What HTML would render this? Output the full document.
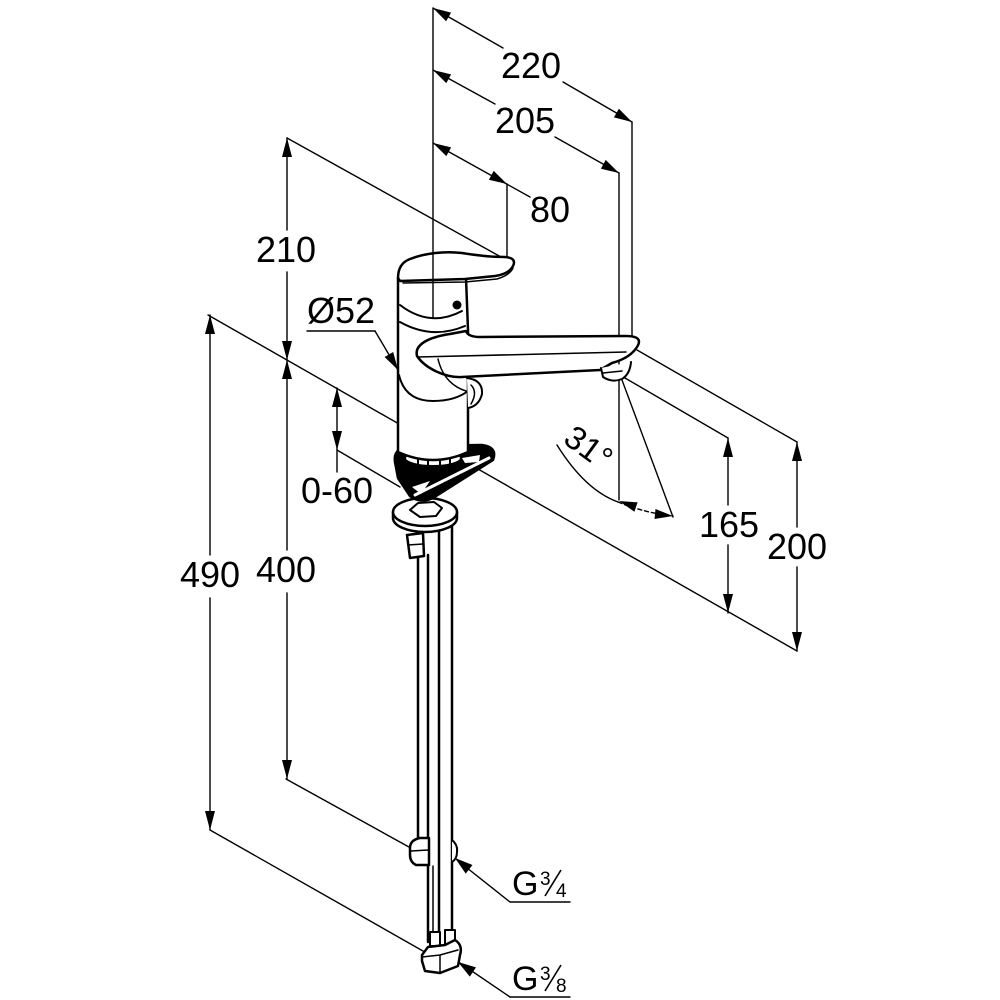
<!DOCTYPE html>
<html><head><meta charset="utf-8"><style>
html,body{margin:0;padding:0;background:#fff;}
svg{display:block;}
text{font-family:"Liberation Sans",Arial,sans-serif;fill:#000;}
</style></head><body>
<svg width="1000" height="1000" viewBox="0 0 1000 1000" xmlns="http://www.w3.org/2000/svg">
<rect width="1000" height="1000" fill="#fff"/>
<g stroke="#000" stroke-width="1.4" fill="none" stroke-linecap="round">
  <line x1="433" y1="8" x2="503" y2="48"/>
  <line x1="563" y1="82" x2="632" y2="122"/>
  <line x1="433" y1="70" x2="495" y2="104"/>
  <line x1="555" y1="137" x2="619" y2="173"/>
  <line x1="433" y1="143" x2="530" y2="197"/>
  <line x1="507" y1="184" x2="507" y2="258"/>
  <line x1="619" y1="173" x2="619" y2="500"/>
  <line x1="632" y1="122" x2="632" y2="345"/>
  <line x1="287" y1="138" x2="287" y2="230"/>
  <line x1="287" y1="272" x2="287" y2="360"/>
  <line x1="287" y1="138" x2="510" y2="262"/>
  <line x1="287" y1="360" x2="287" y2="550"/>
  <line x1="287" y1="593" x2="287" y2="779"/>
  <line x1="286" y1="779" x2="418" y2="852"/>
  <line x1="210" y1="315" x2="210" y2="555"/>
  <line x1="210" y1="598" x2="210" y2="830"/>
  <line x1="208" y1="315" x2="797" y2="651"/>
  <line x1="210" y1="830" x2="430" y2="955"/>
  <line x1="337" y1="388" x2="337" y2="472"/>
  <line x1="337" y1="450" x2="400" y2="487"/>
  <line x1="307" y1="331" x2="375" y2="331"/>
  <line x1="375" y1="331" x2="398" y2="370"/>
  <line x1="797" y1="442" x2="797" y2="527"/>
  <line x1="797" y1="567" x2="797" y2="651"/>
  <line x1="637" y1="350" x2="797" y2="442"/>
  <line x1="728" y1="438" x2="728" y2="505"/>
  <line x1="728" y1="545" x2="728" y2="613"/>
  <line x1="625" y1="378" x2="728" y2="438"/>
  <line x1="622" y1="380" x2="673" y2="517"/>
  <path d="M557,445 Q585,490 618,502"/>
  <path d="M618,502 Q645,513 673,516" stroke-dasharray="4,3"/>
  <line x1="510" y1="902" x2="570" y2="902"/>
  <line x1="510" y1="902" x2="457" y2="860"/>
  <line x1="510" y1="997" x2="570" y2="997"/>
  <line x1="510" y1="997" x2="460" y2="963"/>
</g>
<g fill="#000" stroke="none">
  <polygon points="433,8 446.1,21.2 451.1,12.6"/>
  <polygon points="632,122 613.9,117.4 618.9,108.8"/>
  <polygon points="433,70 446.3,83.1 451.1,74.4"/>
  <polygon points="619,173 600.9,168.7 605.7,159.9"/>
  <polygon points="433,143 446.3,156.1 451.1,147.4"/>
  <polygon points="507,184 488.9,179.7 493.7,170.9"/>
  <polygon points="287,138 282,157 292,157"/>
  <polygon points="287,360 282,341 292,341"/>
  <polygon points="287,360 282,379 292,379"/>
  <polygon points="287,779 282,760 292,760"/>
  <polygon points="210,315 205,334 215,334"/>
  <polygon points="210,830 205,811 215,811"/>
  <polygon points="337,388 332,407 342,407"/>
  <polygon points="337,450 332,431 342,431"/>
  <polygon points="398,370 384.6,357 393.2,352"/>
  <polygon points="797,442 792,461 802,461"/>
  <polygon points="797,651 792,632 802,632"/>
  <polygon points="728,438 723,457 733,457"/>
  <polygon points="728,613 723,594 733,594"/>
  <polygon points="619,501 637.6,502.3 634.4,511.7"/>
  <polygon points="673,516 655.5,509 654.5,519"/>
  <polygon points="455,858 472.5,865 465.7,873.6"/>
  <polygon points="458,962 476,967.4 469.8,976.6"/>
</g>

<g stroke="#000" stroke-width="2.5" fill="#fff" stroke-linejoin="round" stroke-linecap="round">
  <line x1="418" y1="555" x2="418" y2="840"/>
  <line x1="428" y1="555" x2="428" y2="942"/>
  <line x1="439" y1="515" x2="439" y2="942"/>
  <line x1="452" y1="515" x2="452" y2="942"/>
  <line x1="433" y1="866" x2="433" y2="942" stroke-width="1.5"/>
  <path d="M407,535 L423,533 L424,556 L410,558 Z"/>
  <line x1="408" y1="545" x2="423" y2="544" stroke-width="1.5"/>
  <path d="M393,512 L393,518 A32 14 0 0 0 457,518 L457,512"/>
  <ellipse cx="425" cy="512" rx="32" ry="14"/>
  <path d="M410,510 L418,503 L434,502 L442,508 L436,516 L420,517 Z" stroke-width="2"/>
  <!-- base plate -->
  <path d="M395,462 Q393,449 408,446 L482,445 Q498,447 493,460 L433,498 Q420,504 410,496 L398,478 Z" fill="#000"/>
  <ellipse cx="433" cy="458" rx="28" ry="8" fill="#fff" stroke-width="2"/>
  <path d="M412,487 L430,481 L421,494 Z" fill="#fff" stroke="none"/>
  <path d="M462,458 L480,455 L479,462 L465,463 Z" fill="#fff" stroke="none"/>
  <path d="M415,495 L489,458" stroke="#fff" stroke-width="3" fill="none"/>
  <path d="M418,455 L418,464 M428,454 L428,466 M440,454 L440,466 M450,455 L450,464" stroke-width="2"/>
  <!-- body -->
  <path d="M398,278 L398,452 Q433,468 468,452 L468,330 L466,278 Z"/>
  <path d="M400,305 Q430,328 462,311" fill="none" stroke-width="2"/>
  <path d="M400,322 Q432,340 465,326" fill="none" stroke-width="2"/>
  <path d="M399,375 Q405,401 433,401 Q455,401 468,391" fill="none" stroke-width="2"/>
  <path d="M467,378 Q483,380 482,394 Q479,406 468,408" stroke-width="2"/>
  <path d="M471,385 Q478,392 471,404" fill="none" stroke-width="1.5"/>
  <!-- spout -->
  <path d="M417,356 C414,344 430,337 450,334 L466,331 Q468,337 480,337 L626,336 Q644,336 637,347 Q630,358 612,363 L600,370 L462,377 C445,378 425,368 417,356 Z"/>
  <path d="M418,357 L626,352" fill="none" stroke-width="1.5"/>
  <path d="M438,359 Q444,384 466,391" fill="none" stroke-width="1.5"/>
  <path d="M601,368 L603,377 Q612,383 622,379 Q630,374 631,362" stroke-width="2"/>
  <path d="M603,373 L622,371" fill="none" stroke-width="1.5"/>
  <!-- handle -->
  <path d="M398,278 C398,268 402,262 410,259 C425,253 445,251 462,253 C480,256 495,257 505,257 Q517,258 513,266 Q509,274 495,276 L465,279 L400,281 Z"/>
  <path d="M403,283 L465,282 L497,279 Q510,275 513,268" fill="none" stroke-width="1.5"/>
  <circle cx="457" cy="305" r="4.5" fill="#000" stroke="none"/>
  <!-- G3/4 nut -->
  <path d="M410,848 Q410,840 420,838 L429,838 L429,865 L416,865 Q410,862 410,855 Z"/>
  <line x1="411" y1="851" x2="428" y2="850" stroke-width="1.5"/>
  <path d="M452,840 Q458,845 457,852 Q457,859 452,862" stroke-width="2"/>
  <!-- G3/8 nut -->
  <path d="M430,932 L430,946 L440,946 L440,932 Z" stroke-width="2"/>
  <path d="M445,930 L445,944 L455,944 L455,930 Z" stroke-width="2"/>
  <path d="M422,955 L428,947 L445,945 L455,940 Q463,945 460,955 L458,966 L440,973 L425,971 L422,961 Z"/>
  <path d="M422,957 L440,955 L458,950 M440,955 L440,973" fill="none" stroke-width="1.5"/>
</g>
<line x1="433" y1="8" x2="433" y2="318" stroke="#000" stroke-width="1.4"/>

<g font-size="36" text-anchor="middle">
  <text x="531" y="78">220</text>
  <text x="525" y="133">205</text>
  <text x="550" y="222">80</text>
  <text x="286" y="262">210</text>
  <text x="337" y="503">0-60</text>
  <text x="210" y="587">490</text>
  <text x="286" y="582">400</text>
  <text x="729" y="537">165</text>
  <text x="797" y="559">200</text>
</g>
<text x="307" y="323" font-size="36">Ø52</text>
<text x="589" y="459" font-size="33" text-anchor="middle" transform="rotate(36 589 447)">31°</text>
<text x="512" y="895" font-size="34">G</text>
<text x="540" y="885" font-size="19">3</text>
<line x1="545" y1="896" x2="561" y2="870" stroke="#000" stroke-width="1.6"/>
<text x="556" y="897" font-size="19">4</text>
<text x="512" y="990" font-size="34">G</text>
<text x="540" y="980" font-size="19">3</text>
<line x1="545" y1="991" x2="561" y2="965" stroke="#000" stroke-width="1.6"/>
<text x="556" y="992" font-size="19">8</text>
</svg>
</body></html>
